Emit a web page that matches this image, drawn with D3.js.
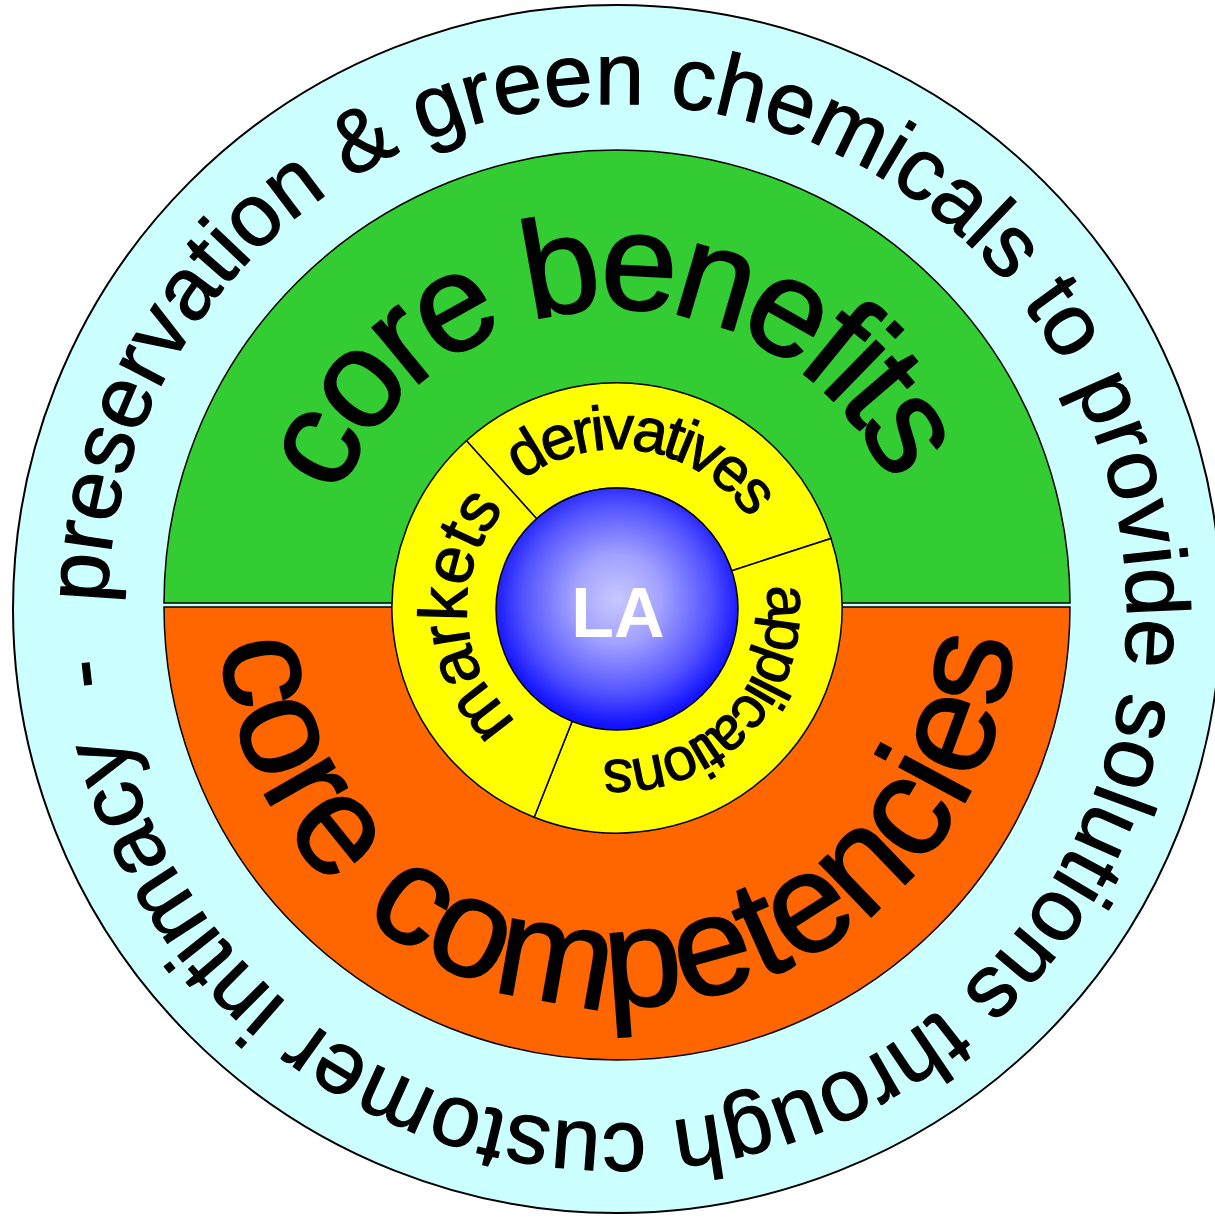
<!DOCTYPE html>
<html><head><meta charset="utf-8">
<script src="https://cdn.jsdelivr.net/npm/d3@7"></script>
<style>
html,body{margin:0;padding:0;background:#fff;}
svg{display:block;}
text{font-family:"Liberation Sans",Arial,Helvetica,sans-serif;}
</style>
</head><body>
<svg id="chart" width="1215" height="1218"></svg>
<script>
// ---- data ----
const outerText = "preservation & green chemicals to provide solutions through customer intimacy  -";
const halfLabels = ["core benefits", "core competencies"];
const innerLabels = ["derivatives", "applications", "markets"];
const innerShares = [114, 129.6, 116.4];
const centerLabel = "LA";

// ---- layout ----
const cx = 617, cy = 609;
const deg = Math.PI / 180;
const svg = d3.select("#chart");
const defs = svg.append("defs");

const grad = defs.append("radialGradient").attr("id", "blueGrad")
  .attr("cx", "50%").attr("cy", "46%").attr("r", "52%");
[[0, "#c8c8ff"], [0.35, "#a2a2ff"], [0.75, "#5252ff"], [1, "#1212ff"]].forEach(s =>
  grad.append("stop").attr("offset", s[0]).attr("stop-color", s[1]));

// outer ring
svg.append("circle").attr("cx", cx).attr("cy", cy).attr("r", 604)
  .attr("fill", "#ccffff").attr("stroke", "#000").attr("stroke-width", 2);

// half discs
const halfArc = d3.arc().innerRadius(0).outerRadius(453);
const halves = [
  {startAngle: -Math.PI / 2, endAngle: Math.PI / 2, fill: "#33cc33"},
  {startAngle: Math.PI / 2, endAngle: 3 * Math.PI / 2, fill: "#ff6600"}
];
svg.selectAll("path.half").data(halves).join("path").attr("class", "half")
  .attr("transform", (d, i) => `translate(${cx},${cy + (i === 0 ? -6 : -2)})`)
  .attr("d", halfArc)
  .attr("fill", d => d.fill).attr("stroke", "#000").attr("stroke-width", 1.5);

// inner yellow ring segments
const pie = d3.pie().sort(null).value(d => d).startAngle(-42 * deg).endAngle(318 * deg);
const segArc = d3.arc().innerRadius(120).outerRadius(225);
svg.append("g").attr("transform", `translate(${cx},${cy - 1})`)
  .selectAll("path").data(pie(innerShares)).join("path")
  .attr("d", segArc).attr("fill", "#ffff00").attr("stroke", "#000").attr("stroke-width", 1.5);

// center
svg.append("circle").attr("cx", cx).attr("cy", cy).attr("r", 121)
  .attr("fill", "url(#blueGrad)").attr("stroke", "#000").attr("stroke-width", 1.5);
svg.append("text").attr("x", cx + 1).attr("y", cy + 28).attr("text-anchor", "middle")
  .attr("font-size", 70).attr("font-weight", "bold").attr("fill", "#fff").text(centerLabel);

// ---- curved text helpers ----
function arcD(r, a0, a1, ccw, ox = 0, oy = 0) {
  const p = d3.path();
  p.arc(cx + ox, cy + oy, r, a0 * deg - Math.PI / 2, a1 * deg - Math.PI / 2, ccw);
  return p.toString();
}
let pid = 0;
function curved(text, r, center, spanDeg, ccw, fontSize, sw) {
  const id = "tp" + (pid++);
  const half = 120;
  const d = ccw ? arcD(r, center + half, center - half, true) : arcD(r, center - half, center + half, false);
  defs.append("path").attr("id", id).attr("d", d);
  const t = svg.append("text").attr("font-size", fontSize).attr("fill", "#000")
    .attr("stroke", "#000").attr("stroke-width", sw).attr("stroke-linejoin", "round");
  t.append("textPath").attr("href", "#" + id).attr("startOffset", "50%")
    .attr("text-anchor", "middle").text(text);
  const node = t.node();
  const n = text.length;
  const natural = node.getComputedTextLength();
  const wf = node.getSubStringLength(0, 1), wl = node.getSubStringLength(n - 1, 1);
  const target = spanDeg * deg * r;
  const ls = (target - (natural - (wf + wl) / 2)) / (n - 1);
  t.style("letter-spacing", ls + "px");
}

curved(halfLabels[0], 300, -2, 120.5, false, 138, 1.8);
curved(halfLabels[1], 398, 179.75, 160.5, true, 141, 1.8);
curved(innerLabels[0], 160, 9, 80.7, false, 62, 1.1);
curved(innerLabels[1], 151, 132.6, 92, false, 60, 1.1);
curved(innerLabels[2], 150, 266.5, 73, false, 68, 1.1);

// outer ring text
{
  const r = 510, a0 = 271.2;
  defs.append("path").attr("id", "outerPath").attr("d", arcD(r, a0, a0 + 359.9, false, 0, 5));
  svg.append("text").attr("font-size", 88).attr("fill", "#000").style("white-space", "pre")
    .attr("stroke", "#000").attr("stroke-width", 1.2).attr("stroke-linejoin", "round")
    .append("textPath").attr("href", "#outerPath").attr("startOffset", 0).text(outerText);
}
</script>
</body></html>
